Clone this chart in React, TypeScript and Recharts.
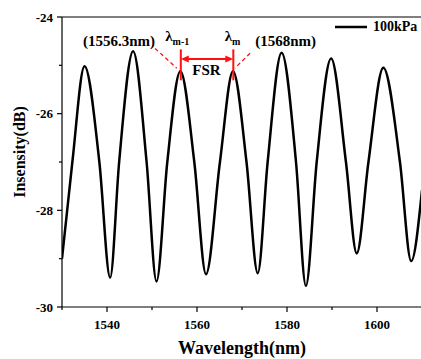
import React from "react";
import { LineChart, Line, XAxis, YAxis, ReferenceLine, ReferenceDot, Label } from "recharts";

// points: peaks, troughs and the -27 dB crossings between them
const wavelength = [
  1530, 1532.3, 1535.0, 1538.3, 1540.7, 1542.7, 1545.8, 1548.8, 1551.0, 1553.4,
  1556.3, 1559.4, 1562.0, 1565.1, 1568.0, 1571.0, 1573.5, 1575.7, 1578.8, 1582.0,
  1584.2, 1586.6, 1589.8, 1593.1, 1595.5, 1598.1, 1601.4, 1605.1, 1607.6, 1610,
];
const intensity = [
  -29.0, -27.0, -25.02, -27.0, -29.39, -27.0, -24.71, -27.0, -29.47, -27.0,
  -25.12, -27.0, -29.32, -27.0, -25.12, -27.0, -29.3, -27.0, -24.74, -27.0,
  -29.56, -27.0, -24.86, -27.0, -28.89, -27.0, -25.05, -27.0, -29.05, -27.58,
];
const xTicks = [1530, 1540, 1550, 1560, 1570, 1580, 1590, 1600, 1610];
const yTicks = [-30, -29, -28, -27, -26, -25, -24];
const seriesName = "100kPa";

// FSR markers
const lambdaM1 = 1556.4;
const lambdaM = 1568.07;
const markTop = -24.67;
const markBottom = -25.31;
const arrowLevel = -24.87;

const data = wavelength.map((w, i) => ({ w, v: intensity[i] }));

const FONT = "'Liberation Serif', 'Times New Roman', serif";
const RED = "#ff1010";

const XTick = (p: any) => {
  const major = p.payload.value % 20 === 0;
  return (
    <g>
      <line x1={p.x} x2={p.x} y1={p.y} y2={p.y + (major ? 5 : 3)} stroke="#000" strokeWidth={1.2} />
      {major && (
        <text x={p.x} y={p.y + 17} textAnchor="middle" dominantBaseline="central" fontFamily={FONT} fontWeight="bold" fontSize={13} fill="#000">
          {p.payload.value}
        </text>
      )}
    </g>
  );
};

const YTick = (p: any) => {
  const major = p.payload.value % 2 === 0;
  return (
    <g>
      <line x1={p.x} x2={p.x - (major ? 5 : 3)} y1={p.y} y2={p.y} stroke="#000" strokeWidth={1.2} />
      {major && (
        <text x={p.x - 9} y={p.y} textAnchor="end" dominantBaseline="central" fontFamily={FONT} fontWeight="bold" fontSize={13} fill="#000">
          {p.payload.value}
        </text>
      )}
    </g>
  );
};

const ArrowShape = (p: any) => {
  const { x1, y1, x2, y2 } = p;
  return (
    <g>
      <line x1={x1 + 4} y1={y1} x2={x2 - 4} y2={y2} stroke={RED} strokeWidth={2} />
      <polygon points={`${x1},${y1} ${x1 + 8},${y1 - 3.5} ${x1 + 8},${y1 + 3.5}`} fill={RED} />
      <polygon points={`${x2},${y2} ${x2 - 8},${y2 - 3.5} ${x2 - 8},${y2 + 3.5}`} fill={RED} />
    </g>
  );
};

const textDot = (content: React.ReactNode, size: number) => (p: any) => (
  <text x={p.cx} y={p.cy} textAnchor="middle" dominantBaseline="central" fontFamily={FONT} fontWeight="bold" fontSize={size} fill="#000">
    {content}
  </text>
);

const lambdaDot = (sub: string) => (p: any) => (
  <text x={p.cx} y={p.cy} textAnchor="middle" fontFamily={FONT} fontWeight="bold" fill="#000">
    <tspan fontSize={15}>λ</tspan>
    <tspan fontSize={10} dy={4}>{sub}</tspan>
  </text>
);

export default function App() {
  return (
    <div style={{ position: "absolute", left: 0, top: 0, width: 421, height: 359, overflow: "hidden", background: "#fff" }}>
      <LineChart width={422} height={359} data={data} margin={{ top: 17, right: 0, bottom: 0, left: 0 }}>
        <XAxis
          dataKey="w"
          type="number"
          domain={[1530, 1610]}
          ticks={xTicks}
          interval={0}
          allowDataOverflow
          height={52}
          tickSize={0}
          tickMargin={0}
          tickLine={false}
          tick={<XTick />}
          axisLine={{ stroke: "#000", strokeWidth: 1.2 }}
        >
          <Label
            content={() => (
              <text x={242} y={354} textAnchor="middle" fontFamily={FONT} fontWeight="bold" fontSize={18} fill="#000">
                Wavelength(nm)
              </text>
            )}
          />
        </XAxis>
        <YAxis
          type="number"
          domain={[-30, -24]}
          ticks={yTicks}
          interval={0}
          allowDataOverflow
          width={62}
          tickSize={0}
          tickMargin={0}
          tickLine={false}
          tick={<YTick />}
          axisLine={{ stroke: "#000", strokeWidth: 1.2 }}
        >
          <Label
            content={() => (
              <text x={25} y={152} transform="rotate(-90, 25, 152)" textAnchor="middle" fontFamily={FONT} fontWeight="bold" fontSize={16} fill="#000">
                Insensity(dB)
              </text>
            )}
          />
        </YAxis>
        <ReferenceLine y={-24} stroke="#000" strokeWidth={1.2} />
        <Line type="monotone" dataKey="v" name={seriesName} stroke="#000" strokeWidth={2.5} dot={false} isAnimationActive={false} />

        <ReferenceLine segment={[{ x: 1550.67, y: -24.65 }, { x: 1555.5, y: -25.06 }]} stroke={RED} strokeWidth={1.3} strokeDasharray="4 3" />
        <ReferenceLine segment={[{ x: 1571.8, y: -24.75 }, { x: 1568.4, y: -25.06 }]} stroke={RED} strokeWidth={1.3} strokeDasharray="4 3" />
        <ReferenceLine segment={[{ x: lambdaM1, y: markTop }, { x: lambdaM1, y: markBottom }]} stroke={RED} strokeWidth={2} />
        <ReferenceLine segment={[{ x: lambdaM, y: markTop }, { x: lambdaM, y: markBottom }]} stroke={RED} strokeWidth={2} />
        <ReferenceLine segment={[{ x: lambdaM1, y: arrowLevel }, { x: lambdaM, y: arrowLevel }]} shape={<ArrowShape />} />

        <ReferenceDot x={1542.67} y={-24.5} r={0} shape={textDot("(1556.3nm)", 15)} />
        <ReferenceDot x={1579.7} y={-24.5} r={0} shape={textDot("(1568nm)", 15)} />
        <ReferenceDot x={1562.1} y={-25.1} r={0} shape={textDot("FSR", 15)} />
        <ReferenceDot x={1555.6} y={-24.5} r={0} shape={lambdaDot("m-1")} />
        <ReferenceDot x={1567.9} y={-24.5} r={0} shape={lambdaDot("m")} />
      </LineChart>
      {/* legend drawn over the plot so it doesn't eat into the chart's layout */}
      <div style={{ position: "absolute", left: 335, top: 19, display: "flex", alignItems: "center", fontFamily: FONT, fontWeight: "bold", fontSize: 14 }}>
        <svg width={32} height={6}><line x1={0} x2={32} y1={3} y2={3} stroke="#000" strokeWidth={2.5} /></svg>
        <span style={{ marginLeft: 6 }}>{seriesName}</span>
      </div>
    </div>
  );
}
